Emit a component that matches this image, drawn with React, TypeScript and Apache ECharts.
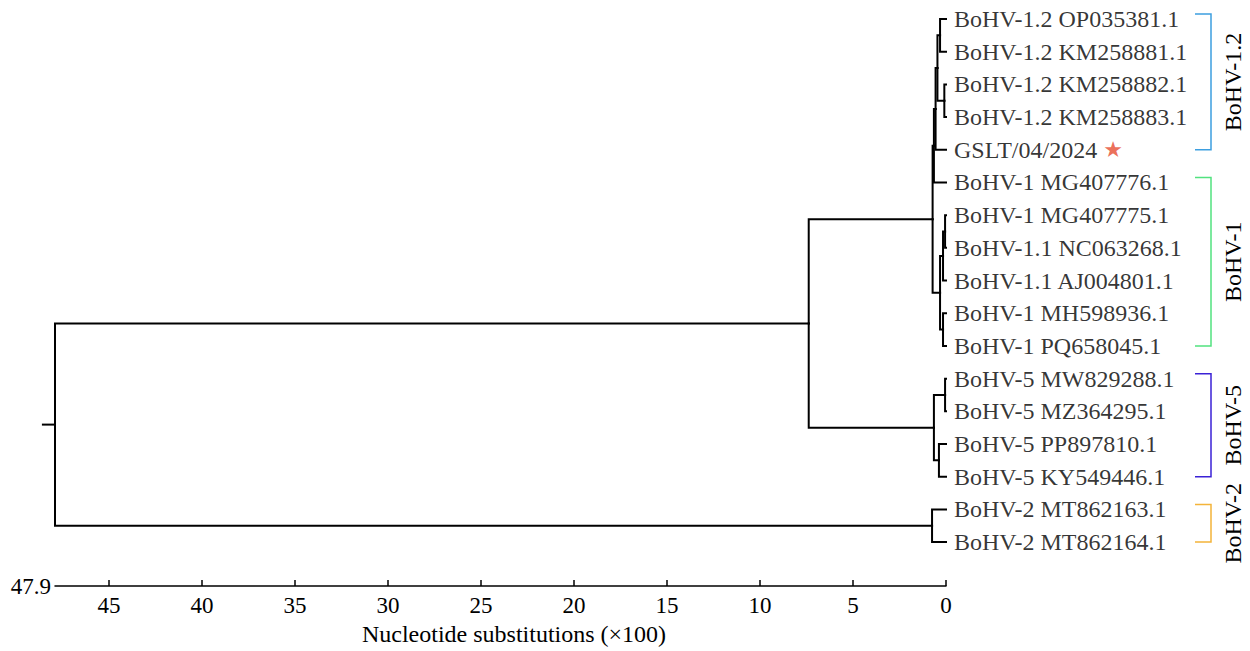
import React, { useEffect, useRef } from "react";
import * as echarts from "echarts";

// ---- data ----
const leafNames = [
  "BoHV-1.2 OP035381.1",
  "BoHV-1.2 KM258881.1",
  "BoHV-1.2 KM258882.1",
  "BoHV-1.2 KM258883.1",
  "GSLT/04/2024",
  "BoHV-1 MG407776.1",
  "BoHV-1 MG407775.1",
  "BoHV-1.1 NC063268.1",
  "BoHV-1.1 AJ004801.1",
  "BoHV-1 MH598936.1",
  "BoHV-1 PQ658045.1",
  "BoHV-5 MW829288.1",
  "BoHV-5 MZ364295.1",
  "BoHV-5 PP897810.1",
  "BoHV-5 KY549446.1",
  "BoHV-2 MT862163.1",
  "BoHV-2 MT862164.1",
];
const highlightLeaf = "GSLT/04/2024";

// internal node heights (nucleotide substitutions ×100) and their children
const nodeHeights = [0.32, 0.09, 0.46, 0.56, 0.65, 0.05, 0.16, 0.16, 0.32, 0.72, 0.05, 0.38, 0.65, 7.38, 0.75, 47.9];
const nodeChildren = [
  ["L0", "L1"],
  ["L2", "L3"],
  ["N0", "N1"],
  ["N2", "L4"],
  ["N3", "L5"],
  ["L6", "L7"],
  ["N5", "L8"],
  ["L9", "L10"],
  ["N6", "N7"],
  ["N4", "N8"],
  ["L11", "L12"],
  ["L13", "L14"],
  ["N10", "N11"],
  ["N9", "N12"],
  ["L15", "L16"],
  ["N13", "N14"],
];
const rootStub = 0.65;

const cladeNames = ["BoHV-1.2", "BoHV-1", "BoHV-5", "BoHV-2"];
const cladeFirstLeaf = [0, 5, 11, 15];
const cladeLastLeaf = [4, 10, 14, 16];
const cladeColors = ["#3d9fe0", "#52e27f", "#3b22d6", "#f4b43a"];

const xTicks = [0, 5, 10, 15, 20, 25, 30, 35, 40, 45];
const xMax = 47.9;

const FONT = '"Liberation Serif", "Times New Roman", serif';

function nodePos(ref: string): [number, number] {
  const idx = parseInt(ref.slice(1), 10);
  if (ref[0] === "L") return [0, idx];
  const ch = nodeChildren[idx];
  const a = nodePos(ch[0]);
  const b = nodePos(ch[ch.length - 1]);
  return [nodeHeights[idx], (a[1] + b[1]) / 2];
}

export default function App() {
  const ref = useRef<HTMLDivElement>(null);

  useEffect(() => {
    if (!ref.current) return;
    const chart = echarts.init(ref.current, undefined, { renderer: "svg" });

    const edges: number[][] = [];
    nodeChildren.forEach((ch, i) => {
      const p = nodePos("N" + i);
      ch.forEach((c) => {
        const q = nodePos(c);
        edges.push([p[0], q[0], p[1], q[1]]);
      });
    });
    const root = nodePos("N" + (nodeChildren.length - 1));
    edges.push([root[0] + rootStub, root[0], root[1], root[1]]);

    const cladeData = cladeNames.map((_, i) => [0, cladeFirstLeaf[i], cladeLastLeaf[i], i]);

    const leafData = leafNames.map((n, i) => ({ value: [0, i], name: n }));

    chart.setOption({
      animation: false,
      backgroundColor: "#ffffff",
      textStyle: { fontFamily: FONT },
      grid: { left: 55, right: 304, top: 19, bottom: 106 },
      xAxis: [
        {
          type: "value",
          min: 0,
          max: xMax,
          interval: 5,
          inverse: true,
          position: "bottom",
          offset: 44,
          axisLine: { show: true, onZero: false, lineStyle: { color: "#000", width: 1.5 } },
          axisTick: { show: true, inside: true, length: 6, customValues: xTicks, lineStyle: { color: "#000", width: 1.5 } },
          axisLabel: { color: "#000", fontSize: 23, margin: 8, fontFamily: FONT, customValues: xTicks },
          splitLine: { show: false },
          name: "Nucleotide substitutions (×100)",
          nameLocation: "middle",
          nameGap: 32,
          nameTextStyle: { color: "#000", fontSize: 24, fontFamily: FONT, padding: [0, 0, 0, 27] },
        },
        {
          type: "value",
          min: 0,
          max: xMax,
          inverse: true,
          position: "bottom",
          offset: 44,
          axisLine: { show: false, onZero: false },
          axisTick: { show: false },
          axisLabel: { show: false },
          splitLine: { show: false },
          name: String(xMax),
          nameLocation: "end",
          nameGap: 4,
          nameTextStyle: { color: "#000", fontSize: 23, fontFamily: FONT },
        },
      ],
      yAxis: { type: "value", min: 0, max: leafNames.length - 1, inverse: true, show: false },
      series: [
        {
          type: "custom",
          silent: true,
          clip: false,
          data: edges,
          encode: { x: [0, 1], y: [2, 3] },
          renderItem: (params: any, api: any) => {
            const p = api.coord([api.value(0), api.value(2)]);
            const c = api.coord([api.value(1), api.value(3)]);
            return {
              type: "polyline",
              shape: { points: [[p[0], p[1]], [p[0], c[1]], [c[0], c[1]]] },
              style: { stroke: "#000", lineWidth: 2, fill: null, lineJoin: "miter", lineCap: "square" },
            };
          },
        },
        {
          type: "custom",
          silent: true,
          clip: false,
          data: cladeData,
          encode: { x: 0, y: [1, 2] },
          renderItem: (params: any, api: any) => {
            const i = api.value(3);
            const tip = api.coord([0, 0])[0];
            const y1 = api.coord([0, api.value(1) - 0.15])[1];
            const y2 = api.coord([0, api.value(2)])[1];
            return {
              type: "group",
              children: [
                {
                  type: "polyline",
                  shape: { points: [[tip + 249, y1], [tip + 265, y1], [tip + 265, y2], [tip + 249, y2]] },
                  style: { stroke: cladeColors[i], lineWidth: 1.5, fill: null },
                },
                {
                  type: "text",
                  x: tip + 287,
                  y: (y1 + y2) / 2,
                  rotation: Math.PI / 2,
                  style: {
                    text: cladeNames[i],
                    fill: "#000",
                    font: `24px ${FONT}`,
                    align: "center",
                    verticalAlign: "middle",
                  },
                },
              ],
            };
          },
        },
        {
          type: "scatter",
          silent: true,
          symbolSize: 0,
          data: leafData,
          label: {
            show: true,
            position: "right",
            distance: 8,
            color: "#000",
            fontSize: 24,
            fontFamily: FONT,
            formatter: (p: any) => (p.name === highlightLeaf ? `{t|${p.name}} {s|★}` : p.name),
            rich: {
              t: { color: "#000", fontSize: 24, fontFamily: FONT },
              s: { color: "#e64a2e", fontSize: 22, fontFamily: "DejaVu Sans" },
            },
          },
        },
      ],
    });

    return () => chart.dispose();
  }, []);

  return (
    <div
      ref={ref}
      style={{ position: "fixed", left: 0, top: 0, width: 1250, height: 651, background: "#fff" }}
    />
  );
}
